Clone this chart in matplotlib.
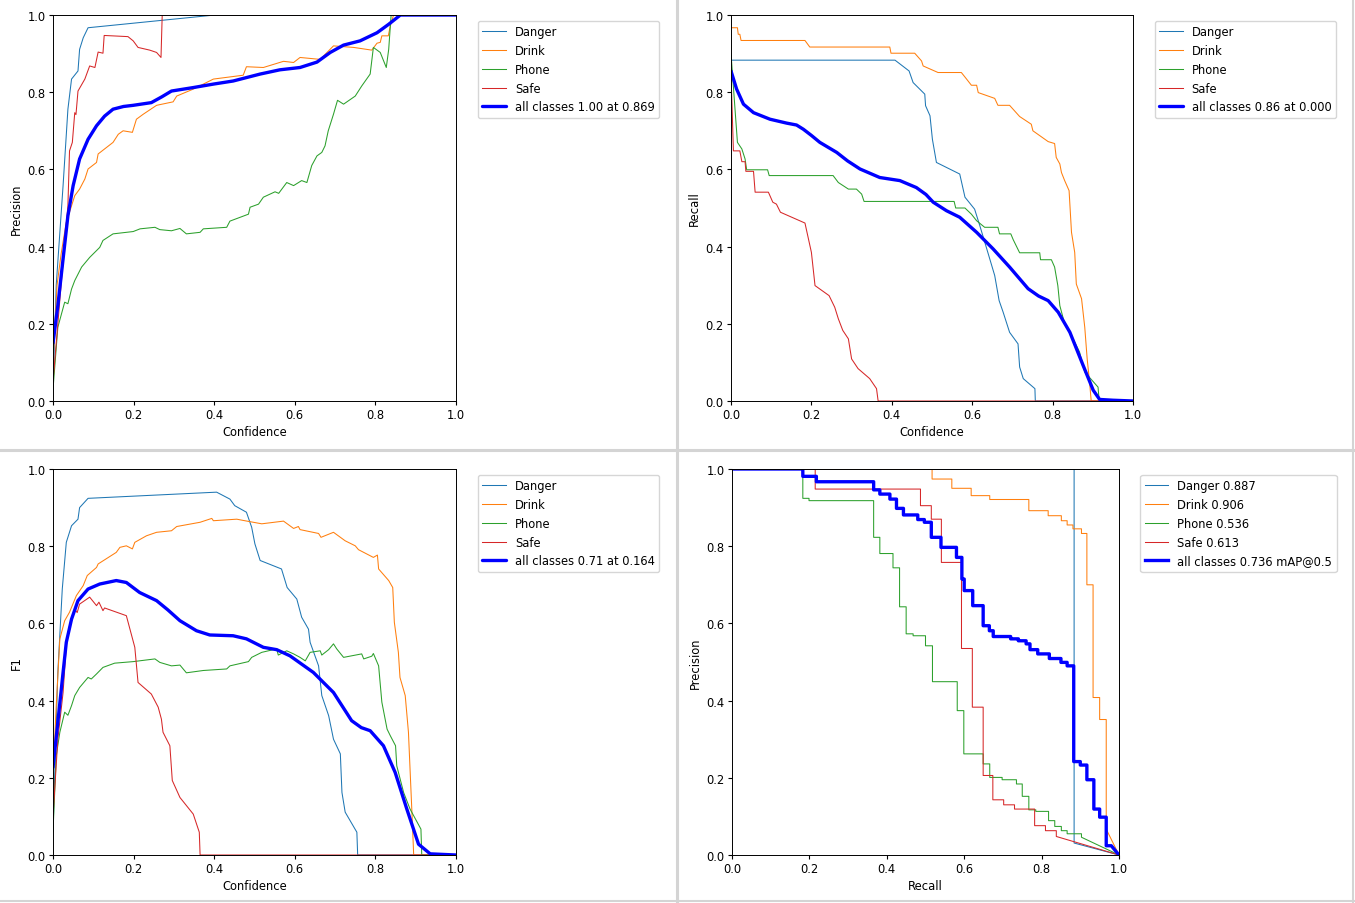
import numpy as np
import matplotlib.pyplot as plt
from matplotlib.lines import Line2D

plt.rcParams["font.size"] = 8.3
plt.rcParams["xtick.major.size"] = 2.6
plt.rcParams["ytick.major.size"] = 2.6
plt.rcParams["xtick.major.pad"] = 2.6
plt.rcParams["ytick.major.pad"] = 2.6
plt.rcParams["axes.linewidth"] = 0.7

names = ["Danger", "Drink", "Phone", "Safe"]
colors = ["#1f77b4", "#ff7f0e", "#2ca02c", "#d62728"]

# ---------------- Precision-Confidence ----------------
p_danger_x = [0, 0.008, 0.025, 0.037, 0.046, 0.062, 0.066, 0.075, 0.087, 0.402, 1.0]
p_danger_y = [0.03, 0.3, 0.558, 0.756, 0.834, 0.855, 0.911, 0.941, 0.967, 1.0, 1.0]
p_drink_x = [0, 0.01, 0.02, 0.033, 0.054, 0.066, 0.079, 0.087, 0.108, 0.112, 0.149, 0.162, 0.174,
             0.197, 0.207, 0.224, 0.257, 0.298, 0.307, 0.348, 0.398, 0.472, 0.48, 0.522, 0.572,
             0.597, 0.613, 0.663, 0.696, 0.746, 0.791, 0.804, 0.812, 0.816, 0.832, 0.837, 0.845, 1.0]
p_drink_y = [0.1, 0.3, 0.38, 0.463, 0.532, 0.549, 0.575, 0.601, 0.618, 0.64, 0.67, 0.691, 0.70,
             0.696, 0.73, 0.743, 0.766, 0.775, 0.79, 0.808, 0.834, 0.844, 0.866, 0.864, 0.88,
             0.877, 0.89, 0.885, 0.92, 0.916, 0.909, 0.927, 0.929, 0.946, 0.946, 0.972, 1.0, 1.0]
p_phone_x = [0, 0.012, 0.029, 0.037, 0.046, 0.054, 0.071, 0.091, 0.116, 0.124, 0.149, 0.199, 0.216,
             0.253, 0.265, 0.294, 0.315, 0.331, 0.365, 0.373, 0.431, 0.439, 0.485, 0.489, 0.51,
             0.522, 0.551, 0.56, 0.58, 0.597, 0.617, 0.63, 0.642, 0.655, 0.667, 0.675, 0.683,
             0.696, 0.706, 0.721, 0.75, 0.766, 0.787, 0.795, 0.812, 0.827, 0.833, 0.839, 1.0]
p_phone_y = [0.03, 0.191, 0.256, 0.252, 0.29, 0.312, 0.347, 0.372, 0.398, 0.416, 0.433, 0.439, 0.446,
             0.45, 0.444, 0.441, 0.447, 0.433, 0.437, 0.446, 0.45, 0.466, 0.484, 0.502, 0.51,
             0.528, 0.542, 0.538, 0.566, 0.558, 0.571, 0.566, 0.61, 0.635, 0.644, 0.661, 0.70,
             0.743, 0.779, 0.769, 0.79, 0.816, 0.847, 0.916, 0.903, 0.864, 0.911, 1.0, 1.0]
p_safe_x = [0, 0.02, 0.037, 0.041, 0.048, 0.054, 0.057, 0.062, 0.079, 0.091, 0.104, 0.112, 0.124,
            0.127, 0.186, 0.199, 0.211, 0.24, 0.257, 0.268, 0.271, 1.0]
p_safe_y = [0.05, 0.3, 0.506, 0.648, 0.67, 0.747, 0.742, 0.803, 0.834, 0.868, 0.864, 0.904, 0.901,
            0.947, 0.944, 0.933, 0.916, 0.909, 0.903, 0.89, 1.0, 1.0]
p_all_x = [0, 0.012, 0.025, 0.037, 0.05, 0.066, 0.087, 0.108, 0.128, 0.149, 0.175, 0.199, 0.244,
           0.27, 0.294, 0.348, 0.398, 0.447, 0.514, 0.563, 0.613, 0.655, 0.688, 0.721, 0.762,
           0.804, 0.833, 0.862, 1.0]
p_all_y = [0.15, 0.247, 0.368, 0.48, 0.558, 0.627, 0.678, 0.713, 0.738, 0.756, 0.763, 0.766, 0.773,
           0.788, 0.803, 0.812, 0.821, 0.829, 0.847, 0.858, 0.864, 0.878, 0.903, 0.922, 0.933,
           0.954, 0.976, 1.0, 1.0]

# ---------------- Recall-Confidence ----------------
r_danger_x = [0, 0.408, 0.443, 0.453, 0.482, 0.484, 0.495, 0.501, 0.511, 0.569, 0.582, 0.606, 0.619,
              0.64, 0.656, 0.667, 0.677, 0.693, 0.714, 0.718, 0.727, 0.756, 0.757, 1.0]
r_danger_y = [0.883, 0.883, 0.855, 0.825, 0.795, 0.765, 0.739, 0.678, 0.618, 0.588, 0.528, 0.497, 0.454,
              0.381, 0.325, 0.26, 0.23, 0.178, 0.148, 0.088, 0.058, 0.032, 0.0, 0.0]
r_drink_x = [0, 0.016, 0.018, 0.022, 0.025, 0.184, 0.196, 0.395, 0.398, 0.457, 0.474, 0.478, 0.515,
             0.573, 0.586, 0.598, 0.611, 0.615, 0.656, 0.664, 0.693, 0.718, 0.747, 0.751, 0.789,
             0.805, 0.809, 0.818, 0.822, 0.83, 0.841, 0.847, 0.855, 0.859, 0.872, 0.88, 0.886,
             0.892, 0.896, 1.0]
r_drink_y = [0.967, 0.967, 0.95, 0.95, 0.934, 0.934, 0.917, 0.917, 0.901, 0.901, 0.881, 0.868, 0.851,
             0.851, 0.834, 0.818, 0.818, 0.799, 0.784, 0.766, 0.766, 0.737, 0.717, 0.7, 0.672,
             0.667, 0.631, 0.614, 0.592, 0.571, 0.545, 0.437, 0.385, 0.303, 0.265, 0.191, 0.109,
             0.049, 0.0, 0.0]
r_phone_x = [0, 0.01, 0.016, 0.027, 0.035, 0.039, 0.091, 0.095, 0.254, 0.267, 0.292, 0.312, 0.325,
             0.331, 0.555, 0.559, 0.582, 0.598, 0.611, 0.631, 0.664, 0.668, 0.696, 0.702, 0.718,
             0.768, 0.77, 0.797, 0.805, 0.813, 0.818, 0.83, 0.851, 0.867, 0.88, 0.913, 0.916, 1.0]
r_phone_y = [0.9, 0.756, 0.67, 0.653, 0.627, 0.599, 0.599, 0.584, 0.584, 0.566, 0.549, 0.549, 0.536,
             0.517, 0.517, 0.5, 0.5, 0.484, 0.467, 0.45, 0.45, 0.433, 0.433, 0.418, 0.384,
             0.384, 0.366, 0.366, 0.347, 0.299, 0.247, 0.2, 0.161, 0.127, 0.075, 0.036, 0.0, 0.0]
r_safe_x = [0, 0.006, 0.022, 0.027, 0.035, 0.037, 0.056, 0.06, 0.093, 0.104, 0.113, 0.123, 0.184,
            0.2, 0.209, 0.244, 0.258, 0.267, 0.278, 0.292, 0.3, 0.316, 0.345, 0.362, 0.366, 1.0]
r_safe_y = [0.85, 0.648, 0.648, 0.62, 0.62, 0.595, 0.595, 0.541, 0.541, 0.515, 0.51, 0.489, 0.461,
            0.385, 0.299, 0.273, 0.243, 0.213, 0.183, 0.161, 0.109, 0.084, 0.058, 0.032, 0.0, 0.0]
r_all_x = [0, 0.014, 0.031, 0.056, 0.097, 0.138, 0.163, 0.18, 0.2, 0.221, 0.263, 0.29, 0.321, 0.37,
           0.42, 0.461, 0.485, 0.503, 0.536, 0.569, 0.611, 0.652, 0.693, 0.739, 0.765, 0.789,
           0.814, 0.843, 0.876, 0.901, 0.917, 0.95, 1.0]
r_all_y = [0.855, 0.808, 0.769, 0.747, 0.73, 0.72, 0.715, 0.704, 0.688, 0.67, 0.644, 0.622, 0.601,
           0.579, 0.571, 0.553, 0.535, 0.515, 0.493, 0.476, 0.437, 0.394, 0.347, 0.291, 0.272,
           0.26, 0.23, 0.178, 0.092, 0.028, 0.004, 0.002, 0.0]

# ---------------- F1-Confidence ----------------
f_danger_x = [0, 0.012, 0.023, 0.033, 0.046, 0.062, 0.066, 0.087, 0.406, 0.439, 0.451, 0.48, 0.493,
              0.501, 0.514, 0.567, 0.581, 0.605, 0.617, 0.634, 0.638, 0.659, 0.667, 0.684, 0.696,
              0.713, 0.717, 0.725, 0.754, 0.756, 1.0]
f_danger_y = [0.06, 0.473, 0.689, 0.81, 0.853, 0.87, 0.9, 0.924, 0.94, 0.922, 0.905, 0.888, 0.849,
              0.806, 0.763, 0.741, 0.693, 0.663, 0.616, 0.585, 0.551, 0.49, 0.413, 0.361, 0.3,
              0.262, 0.162, 0.111, 0.059, 0.0, 0.0]
f_drink_x = [0, 0.008, 0.017, 0.029, 0.041, 0.058, 0.075, 0.085, 0.108, 0.112, 0.157, 0.166, 0.182,
             0.197, 0.203, 0.232, 0.257, 0.294, 0.307, 0.365, 0.394, 0.398, 0.456, 0.476, 0.518,
             0.572, 0.597, 0.609, 0.613, 0.659, 0.665, 0.696, 0.725, 0.75, 0.758, 0.795, 0.805,
             0.808, 0.833, 0.843, 0.847, 0.857, 0.861, 0.874, 0.882, 0.891, 0.895, 1.0]
f_drink_y = [0.2, 0.387, 0.56, 0.607, 0.629, 0.672, 0.698, 0.724, 0.745, 0.754, 0.784, 0.797, 0.801,
             0.793, 0.81, 0.827, 0.836, 0.84, 0.851, 0.862, 0.872, 0.866, 0.87, 0.866, 0.858,
             0.865, 0.846, 0.851, 0.843, 0.833, 0.823, 0.836, 0.814, 0.801, 0.791, 0.771, 0.777,
             0.741, 0.711, 0.693, 0.603, 0.525, 0.46, 0.413, 0.318, 0.102, 0.0, 0.0]
f_phone_x = [0, 0.008, 0.017, 0.029, 0.037, 0.046, 0.054, 0.066, 0.087, 0.095, 0.108, 0.124, 0.153,
             0.199, 0.253, 0.265, 0.294, 0.315, 0.331, 0.373, 0.431, 0.439, 0.485, 0.493, 0.518,
             0.555, 0.559, 0.58, 0.597, 0.613, 0.626, 0.638, 0.663, 0.667, 0.684, 0.696, 0.704,
             0.721, 0.766, 0.771, 0.791, 0.795, 0.808, 0.816, 0.829, 0.837, 0.85, 0.853, 0.87,
             0.886, 0.913, 0.915, 1.0]
f_phone_y = [0.06, 0.257, 0.318, 0.37, 0.362, 0.387, 0.413, 0.434, 0.46, 0.456, 0.469, 0.486, 0.497,
             0.501, 0.508, 0.499, 0.49, 0.492, 0.472, 0.478, 0.482, 0.49, 0.501, 0.512, 0.525,
             0.534, 0.518, 0.529, 0.521, 0.512, 0.503, 0.525, 0.529, 0.518, 0.532, 0.547, 0.534,
             0.512, 0.521, 0.508, 0.515, 0.522, 0.49, 0.396, 0.326, 0.309, 0.283, 0.231, 0.162,
             0.119, 0.067, 0.0, 0.0]
f_safe_x = [0, 0.012, 0.025, 0.033, 0.041, 0.054, 0.06, 0.066, 0.091, 0.108, 0.114, 0.124, 0.128,
            0.182, 0.203, 0.211, 0.244, 0.261, 0.269, 0.273, 0.29, 0.296, 0.315, 0.348, 0.363,
            0.365, 1.0]
f_safe_y = [0.1, 0.3, 0.421, 0.542, 0.594, 0.637, 0.628, 0.65, 0.668, 0.646, 0.655, 0.633, 0.64,
            0.62, 0.538, 0.447, 0.417, 0.383, 0.352, 0.318, 0.283, 0.193, 0.149, 0.106, 0.059,
            0.0, 0.0]
f_all_x = [0, 0.012, 0.025, 0.033, 0.046, 0.062, 0.087, 0.116, 0.157, 0.182, 0.215, 0.257, 0.285,
           0.315, 0.356, 0.389, 0.447, 0.48, 0.522, 0.555, 0.588, 0.646, 0.696, 0.741, 0.765,
           0.787, 0.82, 0.849, 0.878, 0.907, 0.936, 1.0]
f_all_y = [0.227, 0.344, 0.473, 0.551, 0.611, 0.659, 0.689, 0.702, 0.711, 0.706, 0.68, 0.659, 0.635,
           0.607, 0.581, 0.57, 0.568, 0.56, 0.538, 0.532, 0.516, 0.473, 0.421, 0.348, 0.33,
           0.322, 0.283, 0.214, 0.119, 0.028, 0.003, 0.0]

# ---------------- Precision-Recall (steps) ----------------
pr_danger_r = [0, 0.884]
pr_danger_p = [1.0, 0.031]
pr_drink_r = [0, 0.517, 0.568, 0.618, 0.666, 0.767, 0.817, 0.851, 0.866, 0.881, 0.903, 0.917, 0.933,
              0.95, 0.967]
pr_drink_p = [1.0, 0.974, 0.95, 0.931, 0.921, 0.892, 0.879, 0.866, 0.855, 0.845, 0.833, 0.70, 0.408,
              0.351, 0.067]
pr_phone_r = [0, 0.183, 0.199, 0.366, 0.382, 0.416, 0.433, 0.45, 0.468, 0.5, 0.518, 0.582, 0.599,
              0.649, 0.666, 0.698, 0.735, 0.75, 0.767, 0.785, 0.818, 0.834, 0.851, 0.866, 0.903]
pr_phone_p = [1.0, 0.924, 0.918, 0.823, 0.781, 0.744, 0.643, 0.573, 0.568, 0.542, 0.449, 0.374, 0.262,
              0.236, 0.201, 0.195, 0.184, 0.152, 0.117, 0.113, 0.089, 0.074, 0.063, 0.055, 0.046]
pr_safe_r = [0, 0.215, 0.487, 0.515, 0.541, 0.593, 0.621, 0.649, 0.674, 0.702, 0.73, 0.782, 0.81,
             0.838]
pr_safe_p = [1.0, 0.948, 0.905, 0.87, 0.758, 0.535, 0.383, 0.206, 0.143, 0.13, 0.119, 0.076, 0.063,
             0.048]
pr_all_r = [0, 0.183, 0.218, 0.366, 0.382, 0.408, 0.425, 0.443, 0.48, 0.497, 0.515, 0.54, 0.58, 0.594,
            0.6, 0.622, 0.649, 0.665, 0.675, 0.72, 0.74, 0.76, 0.77, 0.79, 0.82, 0.85, 0.866, 0.883,
            0.9, 0.917, 0.935, 0.95, 0.967, 0.98]
pr_all_p = [1.0, 0.981, 0.967, 0.946, 0.935, 0.922, 0.898, 0.881, 0.869, 0.862, 0.823, 0.797, 0.771,
            0.715, 0.685, 0.646, 0.594, 0.581, 0.566, 0.56, 0.555, 0.547, 0.532, 0.521, 0.509,
            0.499, 0.49, 0.242, 0.233, 0.195, 0.119, 0.098, 0.024, 0.024]
ap_values = [0.887, 0.906, 0.536, 0.613]


def steps(r, p):
    # staircase vertices, then straight line to (1, 0)
    xs, ys = [r[0]], [p[0]]
    for i in range(1, len(r)):
        xs += [r[i], r[i]]
        ys += [p[i - 1], p[i]]
    xs.append(1.0)
    ys.append(0.0)
    return np.array(xs), np.array(ys)


W, H = 1355, 904
fig = plt.figure(figsize=(W / 100, H / 100), dpi=100)


def add_ax(l, t, r, b):
    return fig.add_axes([l / W, 1 - b / H, (r - l) / W, (b - t) / H])


def finish(ax, xlabel, ylabel):
    ax.set_xlim(0, 1)
    ax.set_ylim(0, 1)
    ax.set_xlabel(xlabel, labelpad=2.5)
    ax.set_ylabel(ylabel, labelpad=3)
    ax.legend(bbox_to_anchor=(1.04, 1), loc="upper left")


thick = dict(lw=2.4, color="blue", solid_joinstyle="round", solid_capstyle="round")

ax1 = add_ax(53, 16, 456, 402)
for n, c, x, y in zip(names, colors, [p_danger_x, p_drink_x, p_phone_x, p_safe_x],
                      [p_danger_y, p_drink_y, p_phone_y, p_safe_y]):
    ax1.plot(x, y, lw=0.75, color=c, label=n)
ax1.plot(p_all_x, p_all_y, label="all classes 1.00 at 0.869", **thick)
finish(ax1, "Confidence", "Precision")

ax2 = add_ax(731, 16, 1133, 402)
for n, c, x, y in zip(names, colors, [r_danger_x, r_drink_x, r_phone_x, r_safe_x],
                      [r_danger_y, r_drink_y, r_phone_y, r_safe_y]):
    ax2.plot(x, y, lw=0.75, color=c, label=n)
ax2.plot(r_all_x, r_all_y, label="all classes 0.86 at 0.000", **thick)
finish(ax2, "Confidence", "Recall")

ax3 = add_ax(53, 470, 456, 856)
for n, c, x, y in zip(names, colors, [f_danger_x, f_drink_x, f_phone_x, f_safe_x],
                      [f_danger_y, f_drink_y, f_phone_y, f_safe_y]):
    ax3.plot(x, y, lw=0.75, color=c, label=n)
ax3.plot(f_all_x, f_all_y, label="all classes 0.71 at 0.164", **thick)
finish(ax3, "Confidence", "F1")

ax4 = add_ax(732, 470, 1119, 856)
for n, c, r, p, ap in zip(names, colors, [pr_danger_r, pr_drink_r, pr_phone_r, pr_safe_r],
                          [pr_danger_p, pr_drink_p, pr_phone_p, pr_safe_p], ap_values):
    x, y = steps(r, p)
    ax4.plot(x, y, lw=0.75, color=c, label=f"{n} {ap:.3f}")
x, y = steps(pr_all_r, pr_all_p)
ax4.plot(x, y, lw=2.4, color="blue", label="all classes 0.736 mAP@0.5")
finish(ax4, "Recall", "Precision")

# grey gutters between the four screenshots
sep = "#d4d4d4"
fig.add_artist(Line2D([0, 1], [1 - 451 / H] * 2, color=sep, lw=2.2))
fig.add_artist(Line2D([677 / W] * 2, [0, 1], color=sep, lw=2.2))
fig.add_artist(Line2D([1353 / W] * 2, [0, 1], color=sep, lw=1.5))
fig.add_artist(Line2D([0, 1], [1 - 902 / H] * 2, color=sep, lw=1.5))

fig.savefig("out.png", dpi=100)
